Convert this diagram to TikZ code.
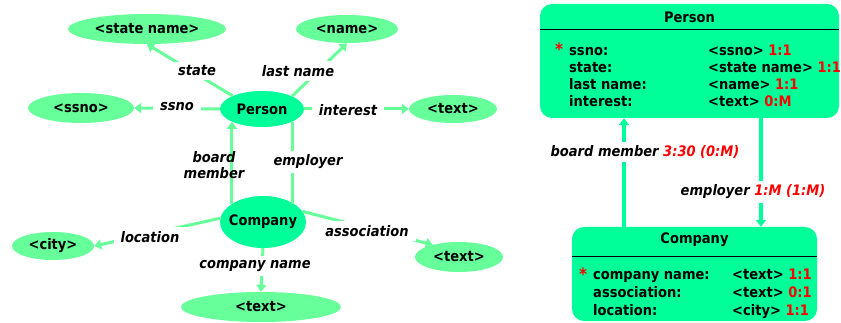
\documentclass[tikz,border=0pt]{standalone}
\usepackage{fontspec}
\setmainfont{DejaVu Sans Condensed}
\usetikzlibrary{shapes.geometric,arrows.meta}
\definecolor{valgreen}{HTML}{66FF99}
\definecolor{entgreen}{HTML}{00FF99}
\definecolor{linkgreen}{HTML}{66FF99}
\definecolor{cardred}{HTML}{FF0000}
\begin{document}
\begin{tikzpicture}[x=1pt,y=-1pt,
  font=\fontsize{14.5}{17}\selectfont\bfseries,
  valnode/.style={ellipse, fill=valgreen, inner sep=0pt},
  entnode/.style={ellipse, fill=entgreen, inner sep=0pt},
  edge/.style={draw=linkgreen, line width=3pt},
  relink/.style={draw=entgreen, line width=3.5pt},
  tip/.style={-{Triangle[length=7pt,width=10pt]}},
  lbl/.style={fill=white, inner xsep=7pt, inner ysep=4pt, font=\fontsize{14.5}{16}\selectfont\bfseries\itshape},
  ebox/.style={rectangle, rounded corners=12pt, fill=entgreen, inner sep=0pt},
  title/.style={anchor=center},
  field/.style={anchor=west, inner sep=0pt, text height=10.5pt, text depth=3pt},
  star/.style={anchor=west, inner sep=0pt, text=cardred, text height=8pt, text depth=0pt,
    font=\fontsize{17}{17}\selectfont\bfseries},
]
\useasboundingbox (0,0) rectangle (841,323);

% ---------- entity graph ----------
\node[entnode, minimum width=84pt, minimum height=36pt] (person) at (262,109) {\makebox[0pt]{Person}};
\node[entnode, minimum width=86pt, minimum height=52pt] (company) at (263,222) {\makebox[0pt]{Company}};

\node[valnode, minimum width=158pt, minimum height=30pt] (statev) at (147,29) {<state name>};
\node[valnode, minimum width=102pt, minimum height=28pt] (namev) at (347,29) {<name>};
\node[valnode, minimum width=106pt, minimum height=30pt] (ssnov) at (81,108) {<ssno>};
\node[valnode, minimum width=88pt, minimum height=28pt] (interestv) at (453,109) {<text>};
\node[valnode, minimum width=82pt, minimum height=28pt] (cityv) at (53,246) {<city>};
\node[valnode, minimum width=88pt, minimum height=30pt] (assocv) at (459,257) {<text>};
\node[valnode, minimum width=160pt, minimum height=30pt] (cnamev) at (261,307) {<text>};

% attribute links
\draw[edge,tip] (person.156) -- (statev.south);
\draw[edge,tip] (person.23) -- (namev.south);
\draw[edge,tip] (person.west) -- (ssnov.east);
\draw[edge,tip] (person.east) -- (interestv.west);
\draw[edge,tip] (company.175) -- (cityv.east);
\draw[edge,tip] (company.15) -- (assocv.155);
\draw[edge,tip] (company.south) -- (cnamev.north);

% relationship links
\draw[edge,tip] (person.203 |- company.151) -- (person.203);
\draw[edge] (person.-23) -- (person.-23 |- company.29);

% link labels
\node[lbl] at (197,71) {state};
\node[lbl] at (298,71) {last name};
\node[lbl] at (177,107) {ssno};
\node[lbl] at (348,110) {interest};
\node[lbl, align=center, fill=none] at (214,165) {board\\member};
\node[lbl] at (308,162) {employer};
\node[lbl] at (150,237) {location};
\node[lbl] at (367,231) {association};
\node[lbl] at (255,266) {company name};

% ---------- record view ----------
\node[ebox, minimum width=299pt, minimum height=114pt] (pbox) at (689.5,61) {};
\node[ebox, minimum width=245pt, minimum height=94pt] (cbox) at (694.5,274) {};

\node[title] at (pbox.center |- 0,17) {Person};
\draw[black, line width=0.8pt] (pbox.west |- 0,29) -- (pbox.east |- 0,29);
\node[star] at (555,52) {*};
\node[field] at (569,52) {ssno:};
\node[field] at (569,69) {state:};
\node[field] at (569,86) {last name:};
\node[field] at (569,103) {interest:};
\node[field] at (708,52) {<ssno> \textcolor{cardred}{1:1}};
\node[field] at (708,69) {<state name> \textcolor{cardred}{1:1}};
\node[field] at (708,86) {<name> \textcolor{cardred}{1:1}};
\node[field] at (708,103) {<text> \textcolor{cardred}{0:M}};

\node[title] at (cbox.center |- 0,240) {Company};
\draw[black, line width=0.8pt] (cbox.west |- 0,256) -- (cbox.east |- 0,256);
\node[star] at (579,276) {*};
\node[field] at (593,276) {company name:};
\node[field] at (593,294) {association:};
\node[field] at (593,312) {location:};
\node[field] at (732,276) {<text> \textcolor{cardred}{1:1}};
\node[field] at (732,294) {<text> \textcolor{cardred}{0:1}};
\node[field] at (732,312) {<city> \textcolor{cardred}{1:1}};

% relationships between records
\coordinate (bm) at (624,0);
\coordinate (em) at (761,0);
\draw[relink,tip] (cbox.north -| bm) -- (pbox.south -| bm);
\draw[relink,tip] (pbox.south -| em) -- (cbox.north -| em);
\node[lbl] at (645,152) {board member \textcolor{cardred}{3:30 (0:M)}};
\node[lbl] at (753,192) {employer \textcolor{cardred}{1:M (1:M)}};
\end{tikzpicture}
\end{document}
